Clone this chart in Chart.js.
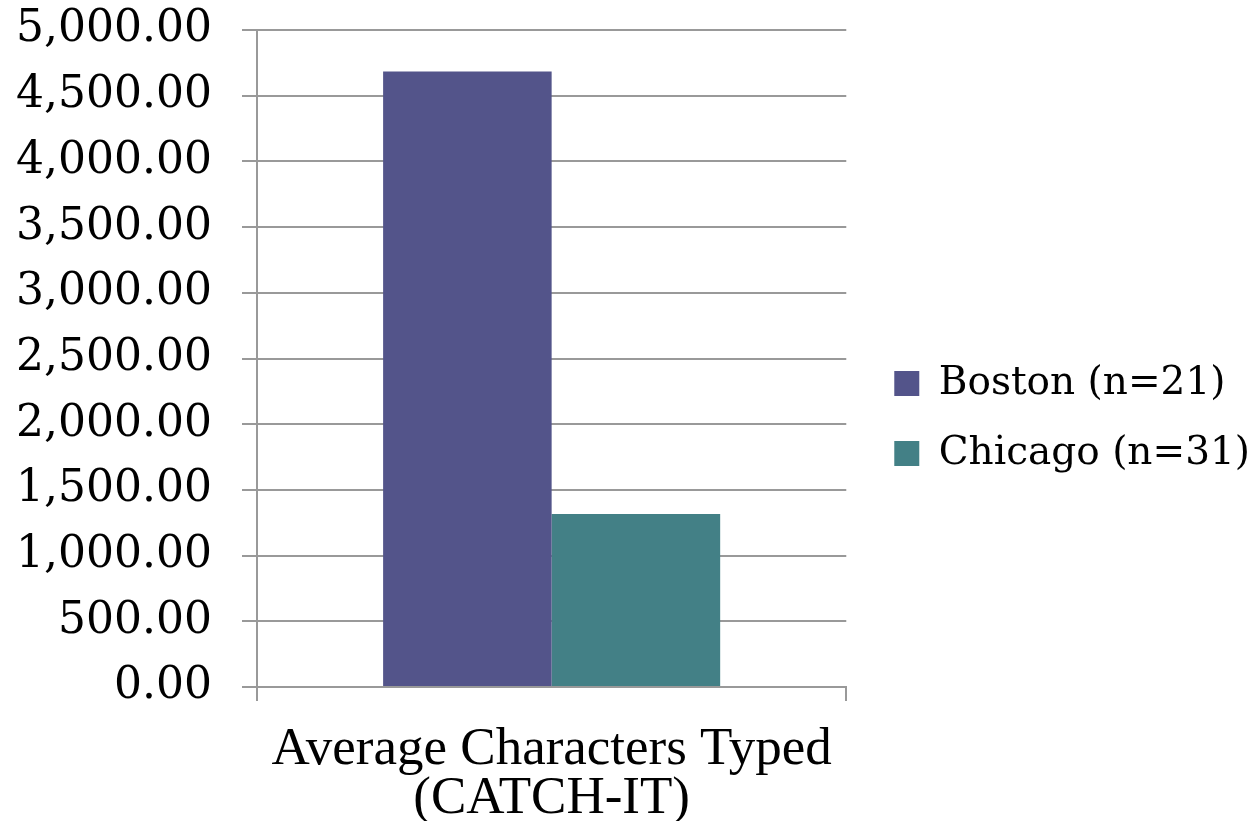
<!DOCTYPE html>
<html>
<head>
<meta charset="utf-8">
<script src="https://cdn.jsdelivr.net/npm/chart.js@4.4.1/dist/chart.umd.min.js"></script>
<style>
  html, body { margin: 0; padding: 0; background: #ffffff; }
  #wrap { width: 1254px; height: 821px; position: relative; }
</style>
</head>
<body>
<div id="wrap"><canvas id="chart" width="1254" height="821"></canvas></div>
<script>
// Category and series values
const categories = [["Average Characters Typed", "(CATCH-IT)"]];
const seriesNames = ["Boston (n=21)", "Chicago (n=31)"];
const bostonValues = [4685];
const chicagoValues = [1316];
const seriesColors = ["#53548A", "#438086"];

const axisMax = 5000;
const axisStep = 500;

const gridColor = "#999999";
const tickFont = { family: "'DejaVu Serif', serif", size: 44 };
const legendFont = { family: "'DejaVu Serif', serif", size: 39 };
const catFont = { family: "'Liberation Serif', serif", size: 53, lineHeight: 0.93 };

// Nudges the legend block to sit beside the plot, slightly lower than centre
const legendOffset = {
  id: "legendOffset",
  afterLayout(chart, args, opts) {
    const lg = chart.legend;
    if (!lg) return;
    lg.left += opts.dx; lg.right += opts.dx;
    lg.top += opts.dy; lg.bottom += opts.dy;
  }
};

const ctx = document.getElementById("chart").getContext("2d");
new Chart(ctx, {
  type: "bar",
  data: {
    labels: categories,
    datasets: [
      { label: seriesNames[0], data: bostonValues, backgroundColor: seriesColors[0], borderWidth: 0 },
      { label: seriesNames[1], data: chicagoValues, backgroundColor: seriesColors[1], borderWidth: 0 }
    ]
  },
  plugins: [legendOffset],
  options: {
    responsive: false,
    animation: false,
    devicePixelRatio: 1,
    layout: { padding: { top: 30, right: 11, left: 0, bottom: 0 } },
    datasets: { bar: { barPercentage: 1.0, categoryPercentage: 0.572 } },
    plugins: {
      tooltip: { enabled: false },
      legendOffset: { dx: 17, dy: -7 },
      legend: {
        position: "right",
        align: "center",
        maxWidth: 500,
        labels: {
          color: "#000000",
          font: legendFont,
          boxWidth: 25,
          boxHeight: 25,
          padding: 31
        }
      }
    },
    scales: {
      x: {
        offset: true,
        afterFit: (scale) => { scale.height = 134; },
        grid: {
          offset: true,
          drawOnChartArea: false,
          drawTicks: true,
          tickLength: 14,
          color: gridColor,
          lineWidth: 2
        },
        border: { display: true, color: gridColor, width: 2 },
        ticks: { color: "#000000", font: catFont, padding: 24, maxRotation: 0 }
      },
      y: {
        min: 0,
        max: axisMax,
        afterFit: (scale) => {
          scale.width = 257;
          scale.paddingTop = 0;
          scale.paddingBottom = 0;
        },
        grid: { color: gridColor, lineWidth: 2, tickLength: 15, drawTicks: true },
        border: { display: true, color: gridColor, width: 2 },
        ticks: {
          stepSize: axisStep,
          color: "#000000",
          font: tickFont,
          padding: 30,
          callback: (v) => v.toLocaleString("en-US", { minimumFractionDigits: 2, maximumFractionDigits: 2 })
        }
      }
    }
  }
});
</script>
</body>
</html>
